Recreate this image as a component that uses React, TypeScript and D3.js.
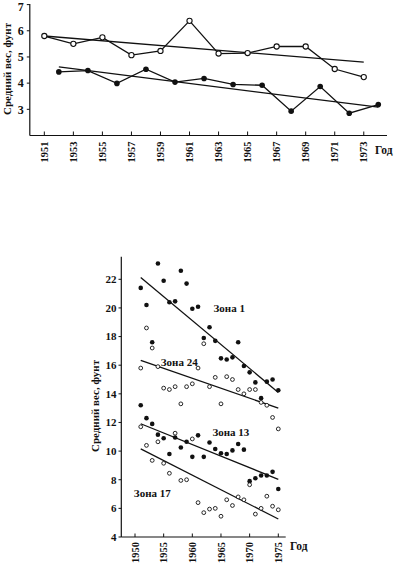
import React from "react";
import * as d3 from "d3";

// ---- Top chart data ----
const topOpenYears = [1951, 1953, 1955, 1957, 1959, 1961, 1963, 1965, 1967, 1969, 1971, 1973];
const topOpenValues = [5.8, 5.5, 5.75, 5.07, 5.23, 6.38, 5.13, 5.15, 5.4, 5.4, 4.54, 4.23];
const topFilledYears = [1952, 1954, 1956, 1958, 1960, 1962, 1964, 1966, 1968, 1970, 1972, 1974];
const topFilledValues = [4.43, 4.48, 3.99, 4.53, 4.04, 4.18, 3.95, 3.92, 2.93, 3.87, 2.85, 3.18];
const topOpenTrend = [[1951, 5.8], [1973, 4.8]];
const topFilledTrend = [[1952, 4.62], [1974, 3.08]];
const topYTicks = [3, 4, 5, 6, 7];
const topXTicks = [1951, 1953, 1955, 1957, 1959, 1961, 1963, 1965, 1967, 1969, 1971, 1973];

// ---- Bottom chart data ----
const years = d3.range(1951, 1976);
const zone1 = [21.4, 20.2, 17.6, 23.1, 21.9, 20.4, 20.46, 22.6, 21.7, 19.94, 20.08, 17.9, 18.65, 17.7, 16.48, 16.4, 16.55, 17.6, 15.94, 15.5, 14.8, 13.7, 14.85, 15.0, 14.25];
const zone24 = [15.8, 18.6, 17.2, 15.9, 14.4, 14.3, 14.5, 13.3, 14.5, 14.7, 15.8, 17.5, 14.5, 15.15, 13.3, 15.2, 15.0, 14.3, 14.0, 14.3, 14.3, 13.4, 13.2, 12.35, 11.55];
const zone13 = [13.2, 12.3, 11.9, 11.15, 10.9, 9.8, 10.95, 10.25, 10.65, 9.6, 11.1, 9.6, 10.6, 10.15, 9.85, 9.8, 10.05, 10.5, 10.1, 7.9, 8.1, 8.3, 8.3, 8.55, 7.35];
const zone17 = [11.7, 10.4, 9.35, 10.65, 9.15, 8.45, 11.25, 7.95, 8.0, 10.85, 6.4, 5.7, 5.95, 6.0, 5.45, 6.6, 6.2, 6.8, 6.6, 7.65, 5.6, 6.0, 6.85, 6.15, 5.9];
const zone1Trend = [[1951, 22.13], [1975, 14.1]];
const zone24Trend = [[1951, 16.34], [1975, 13.0]];
const zone13Trend = [[1951, 11.91], [1975, 8.03]];
const zone17Trend = [[1951, 10.15], [1975, 5.26]];
const zoneLabels = ["Зона 1", "Зона 24", "Зона 13", "Зона 17"];
const zoneLabelPos = [[1963.7, 20.0], [1954.5, 16.2], [1963.5, 11.3], [1949.8, 7.05]];
const botYTicks = [4, 6, 8, 10, 12, 14, 16, 18, 20, 22];
const botXTicks = [1950, 1955, 1960, 1965, 1970, 1975];

const yLabel = "Средний вес, фунт";
const xLabel = "Год";

const FONT = "'Liberation Serif', 'DejaVu Serif', serif";

export default function App() {
  // top scales
  const xT = d3.scaleLinear().domain([1950, 1974.6]).range([29.8, 387]);
  const yT = d3.scaleLinear().domain([2, 7]).range([135.5, 4.6]);
  // bottom scales
  const xB = d3.scaleLinear().domain([1950, 1975]).range([135, 278.3]);
  const yB = d3.scaleLinear().domain([4, 22]).range([537, 279.3]);

  const lineT = d3.line<[number, number]>().x((d) => xT(d[0])).y((d) => yT(d[1]));
  const lineB = d3.line<[number, number]>().x((d) => xB(d[0])).y((d) => yB(d[1]));

  const openPts = topOpenYears.map((y, i) => [y, topOpenValues[i]] as [number, number]);
  const filledPts = topFilledYears.map((y, i) => [y, topFilledValues[i]] as [number, number]);

  const stroke = "#111";
  const sw = 1.3;

  const botSeries = [
    { vals: zone1, filled: true },
    { vals: zone24, filled: false },
    { vals: zone13, filled: true },
    { vals: zone17, filled: false },
  ];
  const botTrends = [zone1Trend, zone24Trend, zone13Trend, zone17Trend];

  return (
    <svg width={397} height={568} style={{ position: "absolute", left: 0, top: 0, background: "#fff" }} fontFamily={FONT}>
      <rect x={0} y={0} width={397} height={568} fill="#fff" />
      {/* ===== TOP CHART ===== */}
      <g>
        <line x1={xT(1950)} x2={xT(1950)} y1={yT(2)} y2={4} stroke={stroke} strokeWidth={1.2} />
        <line x1={xT(1950)} x2={387} y1={yT(2)} y2={yT(2)} stroke={stroke} strokeWidth={1.2} />
        {topYTicks.map((t) => (
          <g key={t}>
            <line x1={xT(1950) - 3} x2={xT(1950)} y1={yT(t)} y2={yT(t)} stroke={stroke} strokeWidth={1} />
            <text x={xT(1950) - 6} y={Math.max(yT(t), 6.5)} dy="0.35em" textAnchor="end" fontSize={12} fontWeight="bold" fill="#111">{t}</text>
          </g>
        ))}
        {topXTicks.map((t) => (
          <g key={t}>
            <line x1={xT(t)} x2={xT(t)} y1={yT(2)} y2={yT(2) - 4} stroke={stroke} strokeWidth={1} />
            <text transform={`translate(${xT(t)},${yT(2) + 6}) rotate(-90)`} dy="0.35em" textAnchor="end" fontSize={10.5} fontWeight="bold" fill="#111">{t}</text>
          </g>
        ))}
        <text x={375} y={150} dy="0.35em" fontSize={11.5} fontWeight="bold" fill="#111">{xLabel}</text>
        <text transform={`translate(7,69) rotate(-90)`} dy="0.35em" textAnchor="middle" fontSize={11} fontWeight="bold" fill="#111">{yLabel}</text>

        <path d={lineT(topOpenTrend as [number, number][]) || ""} fill="none" stroke={stroke} strokeWidth={sw} />
        <path d={lineT(topFilledTrend as [number, number][]) || ""} fill="none" stroke={stroke} strokeWidth={sw} />
        <path d={lineT(openPts) || ""} fill="none" stroke={stroke} strokeWidth={sw} />
        <path d={lineT(filledPts) || ""} fill="none" stroke={stroke} strokeWidth={sw} />
        {openPts.map((p, i) => (
          <circle key={"o" + i} cx={xT(p[0])} cy={yT(p[1])} r={2.6} fill="#fff" stroke={stroke} strokeWidth={1.1} />
        ))}
        {filledPts.map((p, i) => (
          <circle key={"f" + i} cx={xT(p[0])} cy={yT(p[1])} r={2.8} fill={stroke} />
        ))}
      </g>

      {/* ===== BOTTOM CHART ===== */}
      <g>
        <line x1={121.3} x2={121.3} y1={yB(4)} y2={256.7} stroke={stroke} strokeWidth={1.2} />
        <line x1={121.3} x2={285.7} y1={yB(4)} y2={yB(4)} stroke={stroke} strokeWidth={1.2} />
        {botYTicks.map((t) => (
          <g key={t}>
            <line x1={118.5} x2={121.3} y1={yB(t)} y2={yB(t)} stroke={stroke} strokeWidth={1} />
            <text x={116.5} y={yB(t)} dy="0.35em" textAnchor="end" fontSize={11} fontWeight="bold" fill="#111">{t}</text>
          </g>
        ))}
        {botXTicks.map((t) => (
          <g key={t}>
            <line x1={xB(t)} x2={xB(t)} y1={yB(4)} y2={yB(4) - 3.5} stroke={stroke} strokeWidth={1} />
            <text transform={`translate(${xB(t)},${yB(4) + 5}) rotate(-90)`} dy="0.35em" textAnchor="end" fontSize={10.5} fontWeight="bold" fill="#111">{t}</text>
          </g>
        ))}
        <text x={290} y={546} dy="0.35em" fontSize={11.5} fontWeight="bold" fill="#111">{xLabel}</text>
        <text transform={`translate(95,406) rotate(-90)`} dy="0.35em" textAnchor="middle" fontSize={11} fontWeight="bold" fill="#111">{yLabel}</text>

        {botTrends.map((tr, i) => (
          <path key={"t" + i} d={lineB(tr as [number, number][]) || ""} fill="none" stroke={stroke} strokeWidth={sw} />
        ))}
        {botSeries.map((s, si) =>
          s.vals.map((v, i) =>
            s.filled ? (
              <circle key={si + "-" + i} cx={xB(years[i])} cy={yB(v)} r={2.3} fill={stroke} />
            ) : (
              <circle key={si + "-" + i} cx={xB(years[i])} cy={yB(v)} r={1.9} fill="#fff" stroke={stroke} strokeWidth={0.9} />
            )
          )
        )}
        {zoneLabels.map((l, i) => (
          <text key={l} x={xB(zoneLabelPos[i][0])} y={yB(zoneLabelPos[i][1])} dy="0.35em" fontSize={11} fontWeight="bold" fill="#111">{l}</text>
        ))}
      </g>
    </svg>
  );
}
